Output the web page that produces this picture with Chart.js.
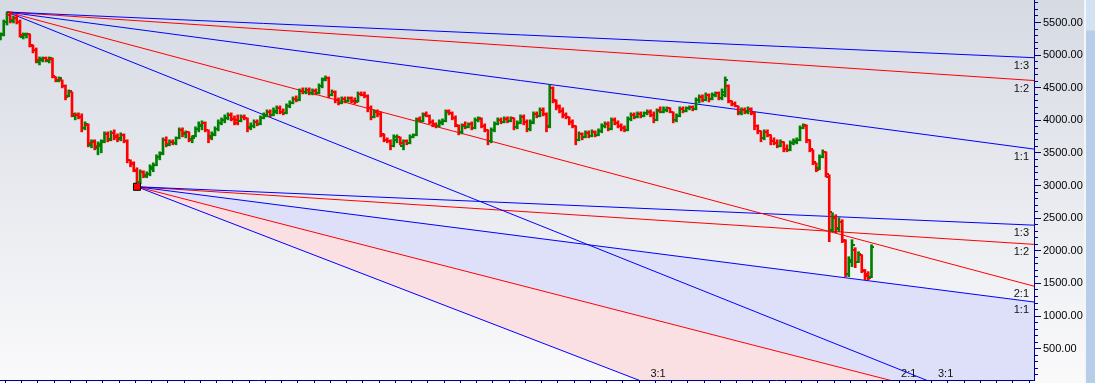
<!DOCTYPE html>
<html>
<head>
<meta charset="utf-8">
<script src="https://cdn.jsdelivr.net/npm/chart.js@4.4.1/dist/chart.umd.min.js"></script>
<style>
  html, body { margin: 0; padding: 0; overflow: hidden; background: #fff; }
  #wrap { position: relative; width: 1095px; height: 383px; overflow: hidden; }
  #priceChart { position: absolute; left: 0; top: 0; }
  .scroll { position: absolute; left: 1084px; top: 0; width: 11px; height: 383px;
    background: linear-gradient(#d3e2f3 0, #d3e2f3 30px, #b7cee9 31px); border-left: 2px solid #f3f5f8; box-sizing: border-box; }
</style>
</head>
<body>
<div id="wrap">
  <canvas id="priceChart" width="1084" height="385"></canvas>
  <div class="scroll"></div>
</div>
<script>
// Daily bars (one per index)
const opens = [
  5248,5324,5508,5615,5523,5569,5508,5278,5309,5324,
  5141,5080,4896,4926,4957,4911,4942,4666,4605,4620,
  4528,4375,4436,4069,4084,4054,3885,3931,3625,3671,
  3579,3610,3686,3793,3717,3809,3747,3717,3778,3686,
  3395,3349,3227,3059,3212,3150,3181,3257,3319,3441,
  3487,3702,3625,3671,3656,3732,3855,3793,3824,3717,
  3763,3870,3916,3962,3855,3763,3793,3870,3962,4008,
  4038,4084,4023,4008,3993,4054,4038,3901,3916,3977,
  3947,4038,4069,4130,4084,4130,4192,4130,4115,4222,
  4268,4329,4314,4452,4436,4467,4421,4452,4421,4528,
  4636,4651,4391,4436,4314,4268,4329,4299,4345,4299,
  4299,4406,4391,4375,4192,4054,4130,4100,3778,3702,
  3686,3610,3702,3747,3610,3686,3656,3747,3778,4023,
  3993,4100,4069,3977,3947,3916,3962,3993,4146,4115,
  4038,3916,3824,3931,3901,3947,3885,4008,4023,3916,
  3855,3686,3855,3947,4008,3977,4023,3993,4038,3901,
  3962,4054,3977,3870,3977,4100,4069,4161,4100,3916,
  4498,4299,4222,4146,4084,4054,3977,3916,3702,3793,
  3747,3809,3763,3824,3778,3839,3916,3947,3870,4008,
  3962,3916,3885,3855,4023,4084,4054,4100,4069,4115,
  4130,4084,4008,4161,4130,4161,4192,4130,4008,4069,
  4176,4146,4192,4207,4176,4314,4360,4314,4391,4329,
  4391,4421,4345,4391,4528,4299,4253,4222,4115,4161,
  4130,4176,4115,3916,3839,3732,3824,3778,3686,3656,
  3610,3671,3564,3548,3656,3671,3702,3885,3916,3702,
  3548,3349,3273,3441,3518,3135,2324,2507,2339,2446,
  2155,1650,1834,2018,1834,1941,1696,1650,1604
];
const highs = [
  5340,5539,5661,5661,5600,5615,5539,5340,5340,5324,
  5156,5110,4972,4972,4972,4972,4957,4666,4666,4620,
  4544,4467,4436,4115,4115,4100,3977,3947,3702,3702,
  3671,3702,3824,3824,3839,3855,3793,3809,3793,3702,
  3395,3365,3273,3242,3227,3212,3319,3349,3472,3518,
  3732,3747,3702,3702,3747,3885,3885,3839,3824,3763,
  3901,3977,3993,3977,3855,3824,3901,4008,4038,4084,
  4115,4115,4069,4084,4084,4084,4038,3962,4008,4008,
  4069,4115,4161,4161,4192,4222,4222,4176,4253,4299,
  4360,4375,4482,4498,4498,4498,4482,4482,4559,4651,
  4681,4666,4467,4452,4345,4360,4360,4360,4360,4345,
  4436,4436,4436,4391,4222,4161,4161,4130,3793,3732,
  3702,3778,3778,3747,3702,3702,3778,3793,4038,4054,
  4115,4130,4084,4008,3962,4008,4023,4161,4161,4130,
  4069,3931,3947,3977,3962,3977,4038,4054,4038,3947,
  3855,3885,3977,4038,4038,4054,4054,4054,4038,3993,
  4084,4084,4008,4008,4130,4130,4192,4192,4115,4544,
  4513,4314,4237,4192,4115,4054,4008,3916,3824,3809,
  3839,3839,3855,3839,3870,3947,3977,3977,4038,4038,
  3993,3947,3916,4054,4115,4115,4130,4130,4130,4161,
  4161,4130,4176,4207,4207,4207,4192,4130,4100,4207,
  4207,4207,4222,4222,4345,4391,4391,4421,4406,4421,
  4436,4436,4482,4666,4544,4299,4283,4222,4192,4192,
  4207,4192,4130,3931,3839,3855,3855,3778,3732,3702,
  3702,3671,3625,3686,3717,3732,3916,3947,3931,3702,
  3548,3349,3472,3548,3518,3166,2584,2553,2507,2477,
  2171,1910,2171,2048,1987,1941,1712,1681,2094
];
const lows = [
  5233,5294,5462,5493,5493,5478,5278,5248,5263,5125,
  5034,4880,4850,4896,4896,4880,4651,4590,4590,4498,
  4314,4360,4054,4008,4023,3824,3855,3594,3579,3548,
  3472,3502,3656,3671,3686,3702,3671,3686,3656,3349,
  3288,3212,2982,3028,3120,3120,3150,3212,3303,3395,
  3472,3594,3610,3625,3625,3717,3747,3732,3671,3656,
  3747,3824,3855,3824,3656,3702,3763,3839,3931,3962,
  4008,3993,3931,3931,3977,4008,3824,3855,3885,3916,
  3931,4023,4054,4054,4069,4100,4100,4084,4100,4192,
  4253,4283,4299,4406,4406,4391,4391,4391,4406,4498,
  4605,4345,4375,4268,4237,4253,4268,4283,4268,4253,
  4283,4375,4345,4130,4008,4038,4054,3747,3671,3656,
  3548,3594,3656,3625,3548,3625,3640,3732,3763,3977,
  3977,4054,3947,3901,3885,3901,3931,3977,4084,4008,
  3901,3778,3793,3870,3885,3855,3870,3977,3885,3824,
  3625,3656,3824,3931,3947,3962,3962,3977,3855,3870,
  3947,3931,3824,3839,3947,4038,4054,4069,3824,3885,
  4268,4161,4115,4038,4023,3931,3885,3625,3686,3702,
  3732,3732,3747,3747,3763,3809,3885,3839,3855,3931,
  3885,3839,3824,3839,3993,4023,4038,4038,4054,4084,
  4054,3962,3993,4115,4115,4130,4115,3962,3977,4054,
  4115,4130,4161,4146,4161,4268,4283,4299,4283,4314,
  4360,4314,4314,4360,4268,4222,4207,4084,4084,4100,
  4100,4084,3855,3793,3671,3702,3747,3625,3625,3579,
  3594,3518,3518,3533,3625,3640,3686,3870,3656,3518,
  3319,3212,3242,3426,3135,2140,2293,2278,2293,2125,
  1604,1604,1757,1742,1819,1665,1558,1558,1589
];
const closes = [
  5309,5508,5615,5539,5569,5508,5309,5324,5324,5156,
  5080,4926,4942,4957,4926,4957,4681,4620,4651,4528,
  4360,4452,4100,4084,4054,3885,3947,3656,3686,3610,
  3640,3671,3793,3702,3809,3763,3732,3778,3686,3395,
  3334,3242,3043,3212,3166,3181,3288,3319,3441,3502,
  3702,3640,3671,3656,3732,3855,3809,3824,3702,3732,
  3870,3931,3962,3855,3732,3778,3870,3962,4008,4038,
  4084,4023,3962,3993,4054,4038,3885,3916,3977,3947,
  4038,4084,4130,4084,4146,4192,4130,4115,4222,4268,
  4329,4314,4452,4436,4467,4421,4452,4421,4528,4620,
  4651,4391,4436,4314,4268,4329,4299,4345,4299,4283,
  4406,4391,4375,4192,4054,4130,4100,3793,3702,3686,
  3610,3747,3747,3656,3686,3656,3747,3778,4008,3993,
  4084,4069,3977,3931,3916,3977,3993,4130,4115,4038,
  3931,3824,3916,3901,3947,3885,4008,4038,3916,3855,
  3686,3855,3947,4008,3977,4023,3993,4038,3901,3962,
  4054,3977,3870,3962,4100,4069,4161,4100,3901,4498,
  4314,4207,4146,4084,4054,3977,3916,3702,3793,3747,
  3809,3763,3824,3778,3839,3916,3947,3870,4008,3962,
  3916,3885,3855,4023,4084,4054,4100,4069,4115,4130,
  4084,4008,4146,4130,4161,4192,4130,4008,4069,4176,
  4146,4192,4207,4176,4314,4360,4314,4391,4329,4391,
  4421,4345,4436,4620,4299,4253,4222,4130,4161,4130,
  4176,4115,3916,3839,3732,3824,3778,3686,3656,3610,
  3671,3564,3548,3656,3686,3702,3885,3931,3702,3564,
  3365,3242,3441,3518,3181,2599,2507,2354,2446,2171,
  1650,1865,2094,1834,1956,1712,1619,1589,2063
];

// Gann fans: anchor bar, anchor price, price per bar of the 1:1 line
const fanAnchors = [
  { bar: 2, price: 5661, unit: 6.65 },
  { bar: 42, price: 2982, unit: 6.4 }
];
const fanRatios = [1 / 3, 1 / 2, 1, 2, 3];
const fanLabels = ["1:3", "1:2", "1:1", "2:1", "3:1"];
const fanColors = ["#0000ff", "#ff0000", "#0000ff", "#ff0000", "#0000ff"];

const xMin = -0.15, xMax = 318;
const yMin = 20, yMax = 5845;
const axisColor = "#00008b";
const labelFont = "'Liberation Sans', Arial, sans-serif";

const barColors = closes.map((c, i) => (c >= opens[i] ? "#008000" : "#ff0000"));
const rangeData = highs.map((h, i) => ({ x: i, y: [lows[i], h] }));

function fanLine(a, r) {
  return [
    { x: a.bar, y: a.price },
    { x: xMax, y: a.price - a.unit * r * (xMax - a.bar) },
  ];
}

const fanSets = [];
fanAnchors.forEach((a) => {
  fanRatios.forEach((r, k) => {
    fanSets.push({
      type: "line",
      data: fanLine(a, r),
      borderColor: fanColors[k],
      borderWidth: 1,
      pointRadius: 0,
      fill: false,
      order: 2,
    });
  });
});
// dataset index = fanSets index + 1 (bars come first)
// second fan: 1:1 -> 2:1 lavender, 2:1 -> 3:1 pink
fanSets[7].fill = { target: 9, above: "#dedff9", below: "#dedff9" };
fanSets[8].fill = { target: 10, above: "#fbe0e3", below: "#fbe0e3" };

// Background gradient
const bgPlugin = {
  id: "bg",
  beforeDraw(chart) {
    const { ctx, width, height } = chart;
    const g = ctx.createLinearGradient(0, 0, 0, height);
    g.addColorStop(0, "#d6dae3");
    g.addColorStop(1, "#fafafb");
    ctx.save();
    ctx.fillStyle = g;
    ctx.fillRect(0, 0, width, height);
    ctx.restore();
  },
};

// Open (left) and close (right) ticks of each bar
const ohlcTicks = {
  id: "ohlcTicks",
  afterDatasetsDraw(chart) {
    const { ctx } = chart;
    const x = chart.scales.x, y = chart.scales.y;
    ctx.save();
    opens.forEach((o, i) => {
      const px = Math.round(x.getPixelForValue(i));
      ctx.fillStyle = barColors[i];
      ctx.fillRect(px - 3, Math.round(y.getPixelForValue(o)) - 1, 3, 2);
      ctx.fillRect(px, Math.round(y.getPixelForValue(closes[i])) - 1, 3, 2);
    });
    ctx.restore();
  },
};

// Ratio labels at the end of each fan line
const fanLabelPlugin = {
  id: "fanLabels",
  afterDatasetsDraw(chart) {
    const { ctx, chartArea } = chart;
    const x = chart.scales.x, y = chart.scales.y;
    ctx.save();
    ctx.font = "11px " + labelFont;
    ctx.fillStyle = "#111";
    fanAnchors.forEach((a) => {
      fanRatios.forEach((r, k) => {
        const slope = a.unit * r;
        const endPrice = a.price - slope * (xMax - a.bar);
        if (endPrice >= yMin) {
          ctx.textAlign = "right";
          ctx.fillText(fanLabels[k], chartArea.right - 5, y.getPixelForValue(endPrice) + 11);
        } else {
          const hitBar = a.bar + (a.price - yMin) / slope;
          ctx.textAlign = "left";
          ctx.fillText(fanLabels[k], x.getPixelForValue(hitBar) + 12, chartArea.bottom - 3);
        }
      });
    });
    ctx.restore();
  },
};

const ctx = document.getElementById("priceChart").getContext("2d");
new Chart(ctx, {
  type: "bar",
  data: {
    datasets: [
      {
        type: "bar",
        data: rangeData,
        backgroundColor: barColors,
        borderWidth: 0,
        barThickness: 2,
        grouped: false,
        order: 0,
      },
      ...fanSets,
      {
        type: "scatter",
        data: [{ x: fanAnchors[1].bar, y: fanAnchors[1].price }],
        pointStyle: "rect",
        pointRadius: 5,
        backgroundColor: "#ff0000",
        borderColor: "#000",
        borderWidth: 1,
        order: -1,
      },
    ],
  },
  options: {
    responsive: false,
    animation: false,
    devicePixelRatio: 1,
    layout: { padding: 0, autoPadding: false },
    plugins: {
      legend: { display: false },
      tooltip: { enabled: false },
      filler: { drawTime: "beforeDatasetsDraw" },
    },
    scales: {
      x: {
        type: "linear",
        min: xMin,
        max: xMax,
        offset: false,
        ticks: { display: false },
        grid: { drawOnChartArea: false, tickLength: 5, tickColor: axisColor },
        border: { color: axisColor },
        afterBuildTicks: (s) => {
          const t = [];
          for (let v = 4; v <= xMax; v += 5) t.push({ value: v });
          s.ticks = t;
        },
        afterFit: (s) => {
          s.height = 5;
          s.paddingLeft = 0;
          s.paddingRight = 0;
        },
      },
      y: {
        position: "right",
        min: yMin,
        max: yMax,
        ticks: {
          stepSize: 100,
          autoSkip: false,
          includeBounds: false,
          padding: 2,
          color: "#000",
          font: { family: labelFont, size: 11 },
          callback: (v) => (Math.abs(v % 500) < 1e-6 ? Number(v).toFixed(2) : ""),
        },
        grid: {
          drawOnChartArea: false,
          tickLength: 7,
          tickColor: axisColor,
          tickBorderDash: (c) => (c.tick && Math.abs(c.tick.value % 500) < 1e-6 ? [] : [3, 20]),
        },
        border: { color: axisColor },
        afterFit: (s) => {
          s.width = 50;
          s.paddingTop = 0;
          s.paddingBottom = 0;
        },
      },
    },
  },
  plugins: [bgPlugin, ohlcTicks, fanLabelPlugin],
});
</script>
</body>
</html>
